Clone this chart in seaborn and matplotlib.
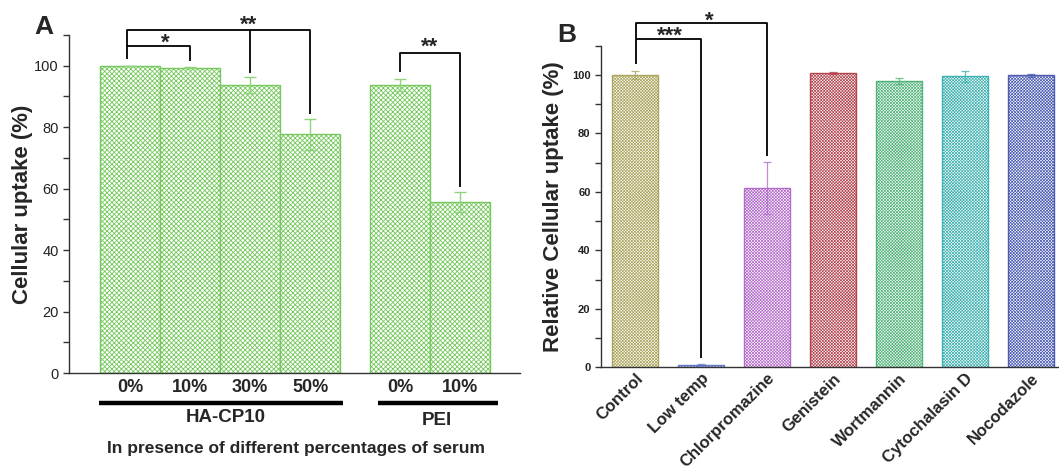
import matplotlib
matplotlib.use("Agg")
import matplotlib.pyplot as plt
import matplotlib.transforms as mtransforms
from matplotlib.ticker import MultipleLocator
import numpy as np
import pandas as pd
import seaborn as sns

# ---------------- data ----------------
# Panel A: uptake in presence of serum
serum_labels = ["0%", "10%", "30%", "50%", "0%", "10%"]
serum_pos = [0, 1, 2, 3, 4.5, 5.5]
serum_uptake = [100.0, 99.3, 93.6, 77.7, 93.8, 55.6]
serum_err = [0.0, 0.2, 2.6, 5.0, 2.0, 3.2]
group_names = ["HA-CP10", "PEI"]

# Panel B: endocytosis inhibitors
inhibitors = ["Control", "Low temp", "Chlorpromazine", "Genistein",
              "Wortmannin", "Cytochalasin D", "Nocodazole"]
relative_uptake = [100.0, 0.8, 61.4, 100.7, 97.8, 99.5, 99.9]
relative_err = [1.4, 0.2, 8.9, 0.3, 1.0, 2.0, 0.5]
inhibitor_colors = ["#aaa45c", "#6678c4", "#b46ccb", "#b4454f",
                    "#52b47a", "#3fb1b1", "#4c5bb3"]

# ---------------- style ----------------
sns.set_style("ticks")
plt.rcParams["font.family"] = ["Liberation Sans", "DejaVu Sans"]
plt.rcParams["hatch.linewidth"] = 0.55
plt.rcParams["axes.linewidth"] = 1.0
plt.rcParams["axes.edgecolor"] = "#333333"


def set_hatch_width(patch, lw):
    """Per-patch hatch width where matplotlib supports it."""
    if hasattr(patch, "set_hatch_linewidth"):
        patch.set_hatch_linewidth(lw)


fig = plt.figure(figsize=(10.59, 4.71), dpi=100)
axA = fig.add_axes([0.0652, 0.208, 0.4259, 0.7177])
axB = fig.add_axes([0.5675, 0.2202, 0.4325, 0.6828])

# ---------------- panel A ----------------
green = "#74c85c"
dfA = pd.DataFrame({"pos": serum_pos, "uptake": serum_uptake})
sns.barplot(data=dfA, x="pos", y="uptake", native_scale=True, width=1.0,
            color="white", ax=axA, errorbar=None)
for p in axA.patches:
    p.set_facecolor("white")
    p.set_edgecolor(green)
    p.set_hatch("x" * 7)
    p.set_linewidth(1.0)
    set_hatch_width(p, 0.6)
axA.errorbar(serum_pos, serum_uptake, yerr=serum_err, fmt="none",
             ecolor="#8fd47c", elinewidth=1.0, capsize=4, capthick=1.0, zorder=3)

axA.set_xlim(-1.02, 6.5)
axA.set_ylim(0, 110)
axA.set_yticks([0, 20, 40, 60, 80, 100])
axA.yaxis.set_minor_locator(MultipleLocator(10))
axA.tick_params(axis="y", which="both", direction="out", length=4, width=1.0,
                labelsize=10.5, colors="#333333", labelcolor="#222222")
axA.tick_params(axis="x", bottom=False, labelbottom=False)
axA.set_xlabel("")
axA.set_ylabel("Cellular uptake (%)", fontsize=16, fontweight="bold")
axA.yaxis.set_label_coords(-0.08, 0.5)
sns.despine(ax=axA)

trA = mtransforms.blended_transform_factory(axA.transData, axA.transAxes)
for x, lab in zip(serum_pos, serum_labels):
    axA.text(x, -0.044, lab, transform=trA, ha="center", va="center",
             fontsize=13, fontweight="bold")
axA.plot([-0.52, 3.55], [-0.089, -0.089], transform=trA, color="black",
         lw=3.2, clip_on=False, solid_capstyle="butt")
axA.plot([4.13, 6.13], [-0.089, -0.089], transform=trA, color="black",
         lw=3.2, clip_on=False, solid_capstyle="butt")
axA.text(1.6, -0.133, group_names[0], transform=trA, ha="center", va="center",
         fontsize=13.5, fontweight="bold")
axA.text(5.12, -0.139, group_names[1], transform=trA, ha="center", va="center",
         fontsize=13.5, fontweight="bold")
axA.text(2.77, -0.222, "In presence of different percentages of serum",
         transform=trA, ha="center", va="center", fontsize=12.5, fontweight="bold")

# significance brackets, panel A
bk = dict(color="black", lw=1.3, clip_on=False, solid_capstyle="butt")
star = dict(ha="center", va="baseline", fontsize=16, fontweight="bold")
axA.plot([-0.05, -0.05, 1.0, 1.0], [102.2, 106.3, 106.3, 101.4], **bk)
axA.plot([-0.05, -0.05, 3.0, 3.0], [106.3, 111.7, 111.7, 84.3], **bk)
axA.plot([2.0, 2.0], [111.7, 97.7], **bk)
axA.plot([4.5, 4.5, 5.5, 5.5], [97.8, 104.0, 104.0, 60.6], **bk)
axA.text(0.58, 105.6, "*", **star)
axA.text(1.97, 111.4, "**", **star)
axA.text(5.0, 104.3, "**", **star)

# ---------------- panel B ----------------
dfB = pd.DataFrame({"treatment": inhibitors, "uptake": relative_uptake})
sns.barplot(data=dfB, x="treatment", y="uptake", hue="treatment",
            palette=inhibitor_colors, width=0.7, legend=False, ax=axB,
            errorbar=None)
for p, c in zip(axB.patches, inhibitor_colors):
    p.set_facecolor("white")
    p.set_edgecolor(c)
    p.set_hatch("x" * 11)
    p.set_linewidth(1.0)
    set_hatch_width(p, 0.5)
for i, (v, e, c) in enumerate(zip(relative_uptake, relative_err, inhibitor_colors)):
    axB.errorbar(i, v, yerr=e, fmt="none", ecolor=c, elinewidth=0.9,
                 capsize=3, capthick=0.9, alpha=0.8, zorder=3)

axB.set_xlim(-0.52, 6.42)
axB.set_ylim(0, 110)
axB.set_yticks([0, 20, 40, 60, 80, 100])
axB.yaxis.set_minor_locator(MultipleLocator(10))
axB.tick_params(axis="y", which="both", direction="out", length=4, width=1.0,
                labelsize=8, colors="#333333", labelcolor="#222222")
for t in axB.get_yticklabels():
    t.set_fontweight("bold")
axB.tick_params(axis="x", bottom=False, pad=-1)
axB.set_xticks(range(len(inhibitors)))
axB.set_xticklabels(inhibitors, rotation=45, ha="right", rotation_mode="anchor",
                    fontsize=12, fontweight="bold")
axB.set_xlabel("")
axB.set_ylabel("Relative Cellular uptake (%)", fontsize=16, fontweight="bold")
axB.yaxis.set_label_coords(-0.08, 0.5)
sns.despine(ax=axB)

axB.plot([0.01, 0.01, 2.0, 2.0], [103.7, 117.6, 117.6, 72.2], **bk)
axB.plot([0.01, 1.0, 1.0], [112.3, 112.3, 3.3], **bk)
axB.text(0.53, 111.2, "***", **star)
axB.text(1.12, 116.6, "*", **star)

# panel letters
fig.text(0.0415, 0.943, "A", ha="center", va="center", fontsize=19, fontweight="bold")
fig.text(0.535, 0.926, "B", ha="center", va="center", fontsize=19, fontweight="bold")

fig.savefig("out.png", dpi=100)
